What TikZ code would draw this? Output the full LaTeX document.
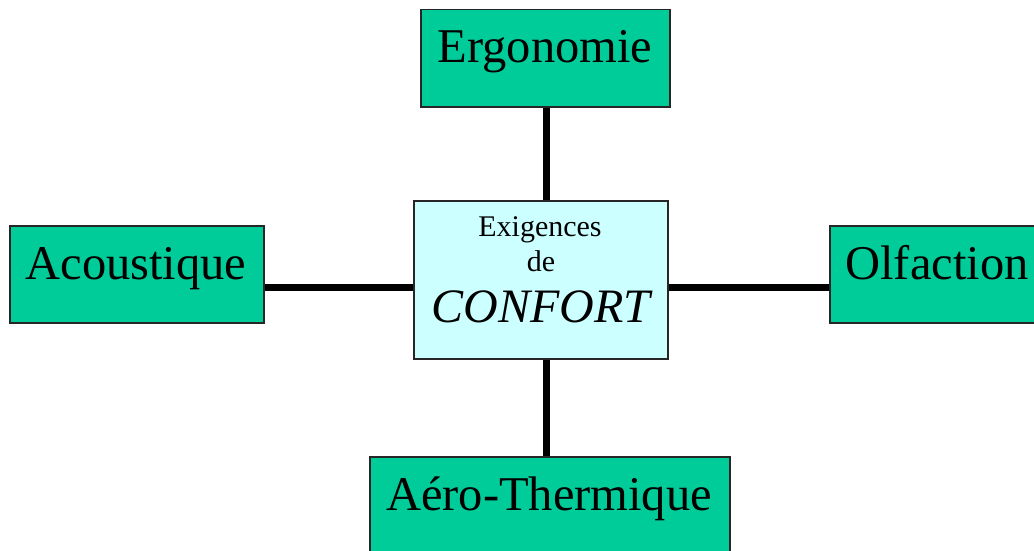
\documentclass[tikz,border=0pt]{standalone}
\usepackage{fontspec}
\setmainfont{Liberation Serif}
\definecolor{boxgreen}{HTML}{00CC99}
\definecolor{boxcyan}{HTML}{CCFFFF}
\begin{document}
\begin{tikzpicture}[x=1pt,y=-1pt,
  box/.style={draw=black!85,line width=1.5pt,inner sep=0pt,anchor=north west},
  greenbox/.style={box,fill=boxgreen},
  conn/.style={line width=7pt,black},
  big/.style={font=\fontsize{48.5}{58}\selectfont,inner sep=0pt,anchor=base},
  small/.style={font=\fontsize{30}{36}\selectfont,inner sep=0pt,anchor=base}]
\useasboundingbox (0,0) rectangle (1034,551);
\begin{scope}
\clip (0,0) rectangle (1034,551);
\node[greenbox,minimum width=249pt,minimum height=97pt] (ergo) at (420,9) {};
\node[box,fill=boxcyan,minimum width=254pt,minimum height=158pt] (center) at (413,200) {};
\node[greenbox,minimum width=254pt,minimum height=97pt] (acou) at (9,225) {};
\node[greenbox,minimum width=216pt,minimum height=97pt] (olf) at (829,225) {};
\node[greenbox,minimum width=360pt,minimum height=110pt] (aero) at (369,456) {};
\end{scope}
\coordinate (vx) at (546,0);
\coordinate (hy) at (0,287);
\draw[conn] (ergo.south -| vx) -- (center.north -| vx);
\draw[conn] (center.south -| vx) -- (aero.north -| vx);
\draw[conn] (acou.east |- hy) -- (center.west |- hy);
\draw[conn] (center.east |- hy) -- (olf.west |- hy);
\node[big] (tergo) at (545,63) {Ergonomie};
\node[big] (tacou) at (136,279) {Acoustique};
\node[big] (tolf) at (937,279) {Olfaction};
\node[big] (taero) at (549,510) {Aéro-Thermique};
\node[small] (t1) at (540,236) {Exigences};
\node[small] (t2) at (541,271) {de};
\node[big,font=\fontsize{48}{58}\selectfont\itshape] (t3) at (541,322) {CONFORT};
\end{tikzpicture}
\end{document}
